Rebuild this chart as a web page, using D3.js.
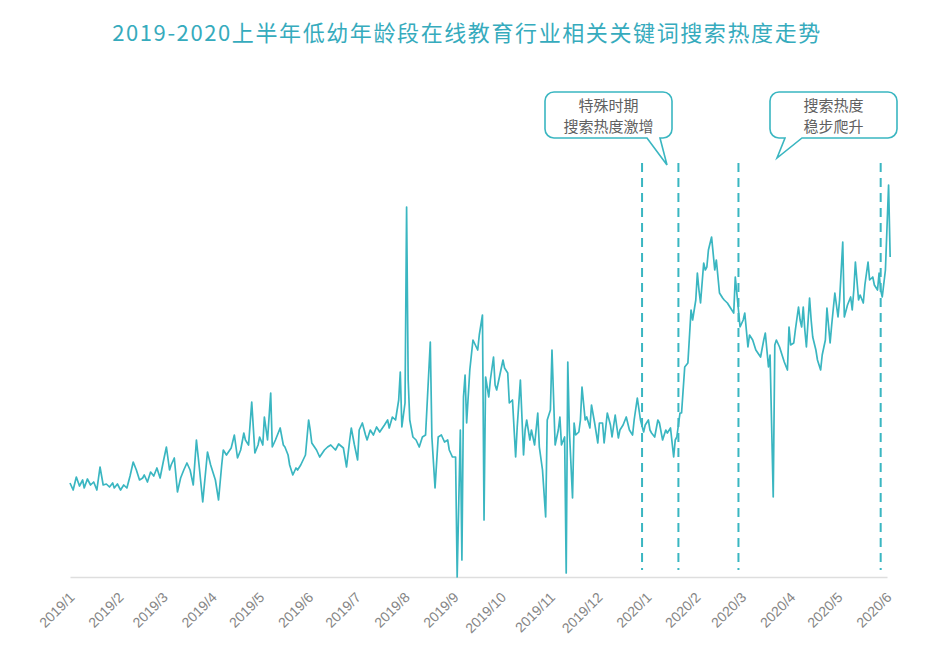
<!DOCTYPE html>
<html><head><meta charset="utf-8">
<script src="https://cdn.jsdelivr.net/npm/d3@7/dist/d3.min.js"></script>
<style>
html,body{margin:0;padding:0;background:#fff;}
svg{display:block;font-family:"Noto Sans CJK SC","Noto Sans",sans-serif;}
</style></head>
<body>
<svg id="chart" width="929" height="656"></svg>
<script>
const title = "2019-2020上半年低幼年龄段在线教育行业相关关键词搜索热度走势";
const startDate = "2019-01-01";
const endDate = "2020-06-01";
// day offsets from 2019-01-01
const dayIndex = [0,2,4,6,8,9,11,13,15,17,19,21,23,25,27,28,30,32,34,36,38,40,42,44,46,47,49,51,53,55,57,59,61,63,64,66,68,70,72,74,76,78,80,82,84,87,89,90,92,94,96,97,99,102,104,106,108,110,111,113,115,117,119,120,122,123,125,127,128,130,133,135,136,138,139,141,143,144,146,149,151,152,153,156,158,161,163,165,168,170,173,175,177,178,180,182,183,185,187,188,190,192,194,196,199,201,202,204,206,208,209,210,211,212,213,214,215,217,219,221,223,225,228,229,231,233,235,237,239,240,242,244,245,247,248,249,250,251,253,255,258,259,261,262,263,265,266,268,269,270,272,274,275,277,278,280,282,283,285,287,288,289,291,292,294,296,297,299,301,302,304,305,307,309,310,311,313,314,315,316,318,319,320,322,323,324,326,327,329,330,332,334,335,337,338,340,342,343,345,347,348,350,352,354,356,357,359,361,363,364,366,367,368,370,372,373,375,377,378,380,382,383,384,386,387,389,391,393,394,396,397,398,399,401,402,403,404,406,408,409,411,413,414,416,418,420,421,423,424,426,427,429,430,432,434,437,439,440,442,443,445,446,447,449,451,452,454,455,456,458,459,461,462,463,464,465,466,468,469,470,472,473,475,476,478,479,481,482,484,486,487,489,490,492,494,495,496,497,499,500,502,503,505,506,508,509,511,512,513,514,516,518,519];
// search heat index
const heat = [94,87,100,91,97,89,98,92,95,87,110,92,93,90,94,89,93,87,92,89,101,115,107,97,99,102,95,105,101,109,99,115,130,107,112,119,85,99,107,114,107,92,137,107,75,125,112,107,97,77,112,127,122,129,142,119,127,144,137,132,175,124,132,140,132,160,137,184,130,137,149,132,130,122,112,102,109,107,112,122,157,147,134,127,120,127,130,132,127,133,129,110,137,149,132,117,147,154,142,137,147,142,150,145,152,157,149,160,157,177,205,150,162,174,370,197,157,140,137,130,140,142,235,140,89,140,142,135,137,127,120,120,0,147,17,180,202,154,207,237,227,242,262,57,200,180,197,220,192,187,202,217,209,204,174,177,120,150,197,122,147,157,137,147,132,164,130,107,60,157,167,227,132,147,160,132,140,4,215,147,79,154,142,145,157,190,157,160,149,172,154,134,154,154,134,164,152,140,162,139,147,152,160,147,142,157,179,157,145,152,157,147,144,140,157,154,137,147,144,149,120,137,140,164,164,210,214,267,257,277,304,287,274,314,307,310,327,340,307,317,284,279,277,274,269,264,300,267,250,257,264,230,242,237,227,220,237,244,210,222,80,232,237,230,220,215,207,250,232,234,247,270,257,250,270,247,230,279,257,240,227,217,207,222,237,269,234,252,284,260,277,335,260,272,280,267,287,315,277,282,274,292,315,297,300,292,287,304,287,280,307,392,320];
const markerDates = ["2019-12-29","2020-01-21","2020-02-28","2020-05-28"];
const callout1 = ["特殊时期","搜索热度激增"];
const callout2 = ["搜索热度","稳步爬升"];

const teal = "#3ab6c1";
const svg = d3.select("#chart");
const parse = d3.timeParse("%Y-%m-%d");
const t0 = parse(startDate);
const data = dayIndex.map((d,i)=>({date:d3.timeDay.offset(t0,d), v:heat[i]}));

const x = d3.scaleTime().domain([t0, parse(endDate)]).range([70, 887]);
const y = d3.scaleLinear().domain([0, 400]).range([577, 177]);

// title
svg.append("text").attr("x",467).attr("y",41).attr("text-anchor","middle")
  .attr("font-size",22).attr("fill","#36abbd").attr("letter-spacing","1.6")
  .text(title);

// axis
const ax = svg.append("g").attr("transform","translate(0,577)")
  .call(d3.axisBottom(x).tickValues(d3.timeMonth.range(t0, d3.timeDay.offset(parse(endDate),1)))
    .tickSize(0).tickFormat(d3.timeFormat("%Y/%-m")));
ax.select(".domain").attr("stroke","#dedede").attr("stroke-width",1.5);
ax.selectAll("text").attr("fill","#858585").attr("font-size",14)
  .attr("font-family","Liberation Sans, Arial, sans-serif")
  .attr("text-anchor","end").attr("dy",0).attr("dx",0)
  .attr("transform","translate(3,19) rotate(-45)");

// dashed markers
svg.append("g").selectAll("line").data(markerDates).join("line")
  .attr("x1",d=>x(parse(d))).attr("x2",d=>x(parse(d)))
  .attr("y1",163).attr("y2",570)
  .attr("stroke",teal).attr("stroke-width",2).attr("stroke-dasharray","9,6");

// line
svg.append("path").datum(data)
  .attr("fill","none").attr("stroke",teal).attr("stroke-width",1.7)
  .attr("stroke-linejoin","round")
  .attr("d", d3.line().x(d=>x(d.date)).y(d=>y(d.v)));

// callouts
function callout(x0,y0,x1,y1,bl,br,tx,ty,r,lines){
  const p = d3.path();
  p.moveTo(x0+r,y0);
  p.lineTo(x1-r,y0); p.arcTo(x1,y0,x1,y0+r,r);
  p.lineTo(x1,y1-r); p.arcTo(x1,y1,x1-r,y1,r);
  p.lineTo(br,y1); p.lineTo(tx,ty); p.lineTo(bl,y1);
  p.lineTo(x0+r,y1); p.arcTo(x0,y1,x0,y1-r,r);
  p.lineTo(x0,y0+r); p.arcTo(x0,y0,x0+r,y0,r);
  p.closePath();
  svg.append("path").attr("d",p.toString()).attr("fill","#fff")
    .attr("stroke",teal).attr("stroke-width",1.6);
  const cx=(x0+x1)/2;
  lines.forEach((t,i)=>svg.append("text").attr("x",cx).attr("y",y0+19+i*21)
    .attr("text-anchor","middle").attr("font-size",15).attr("fill","#606060").text(t));
}
callout(545,92,672,138,647,660,667,165,9,callout1);
callout(770,92,897,138,785,802,777,158,9,callout2);
</script>
</body></html>
